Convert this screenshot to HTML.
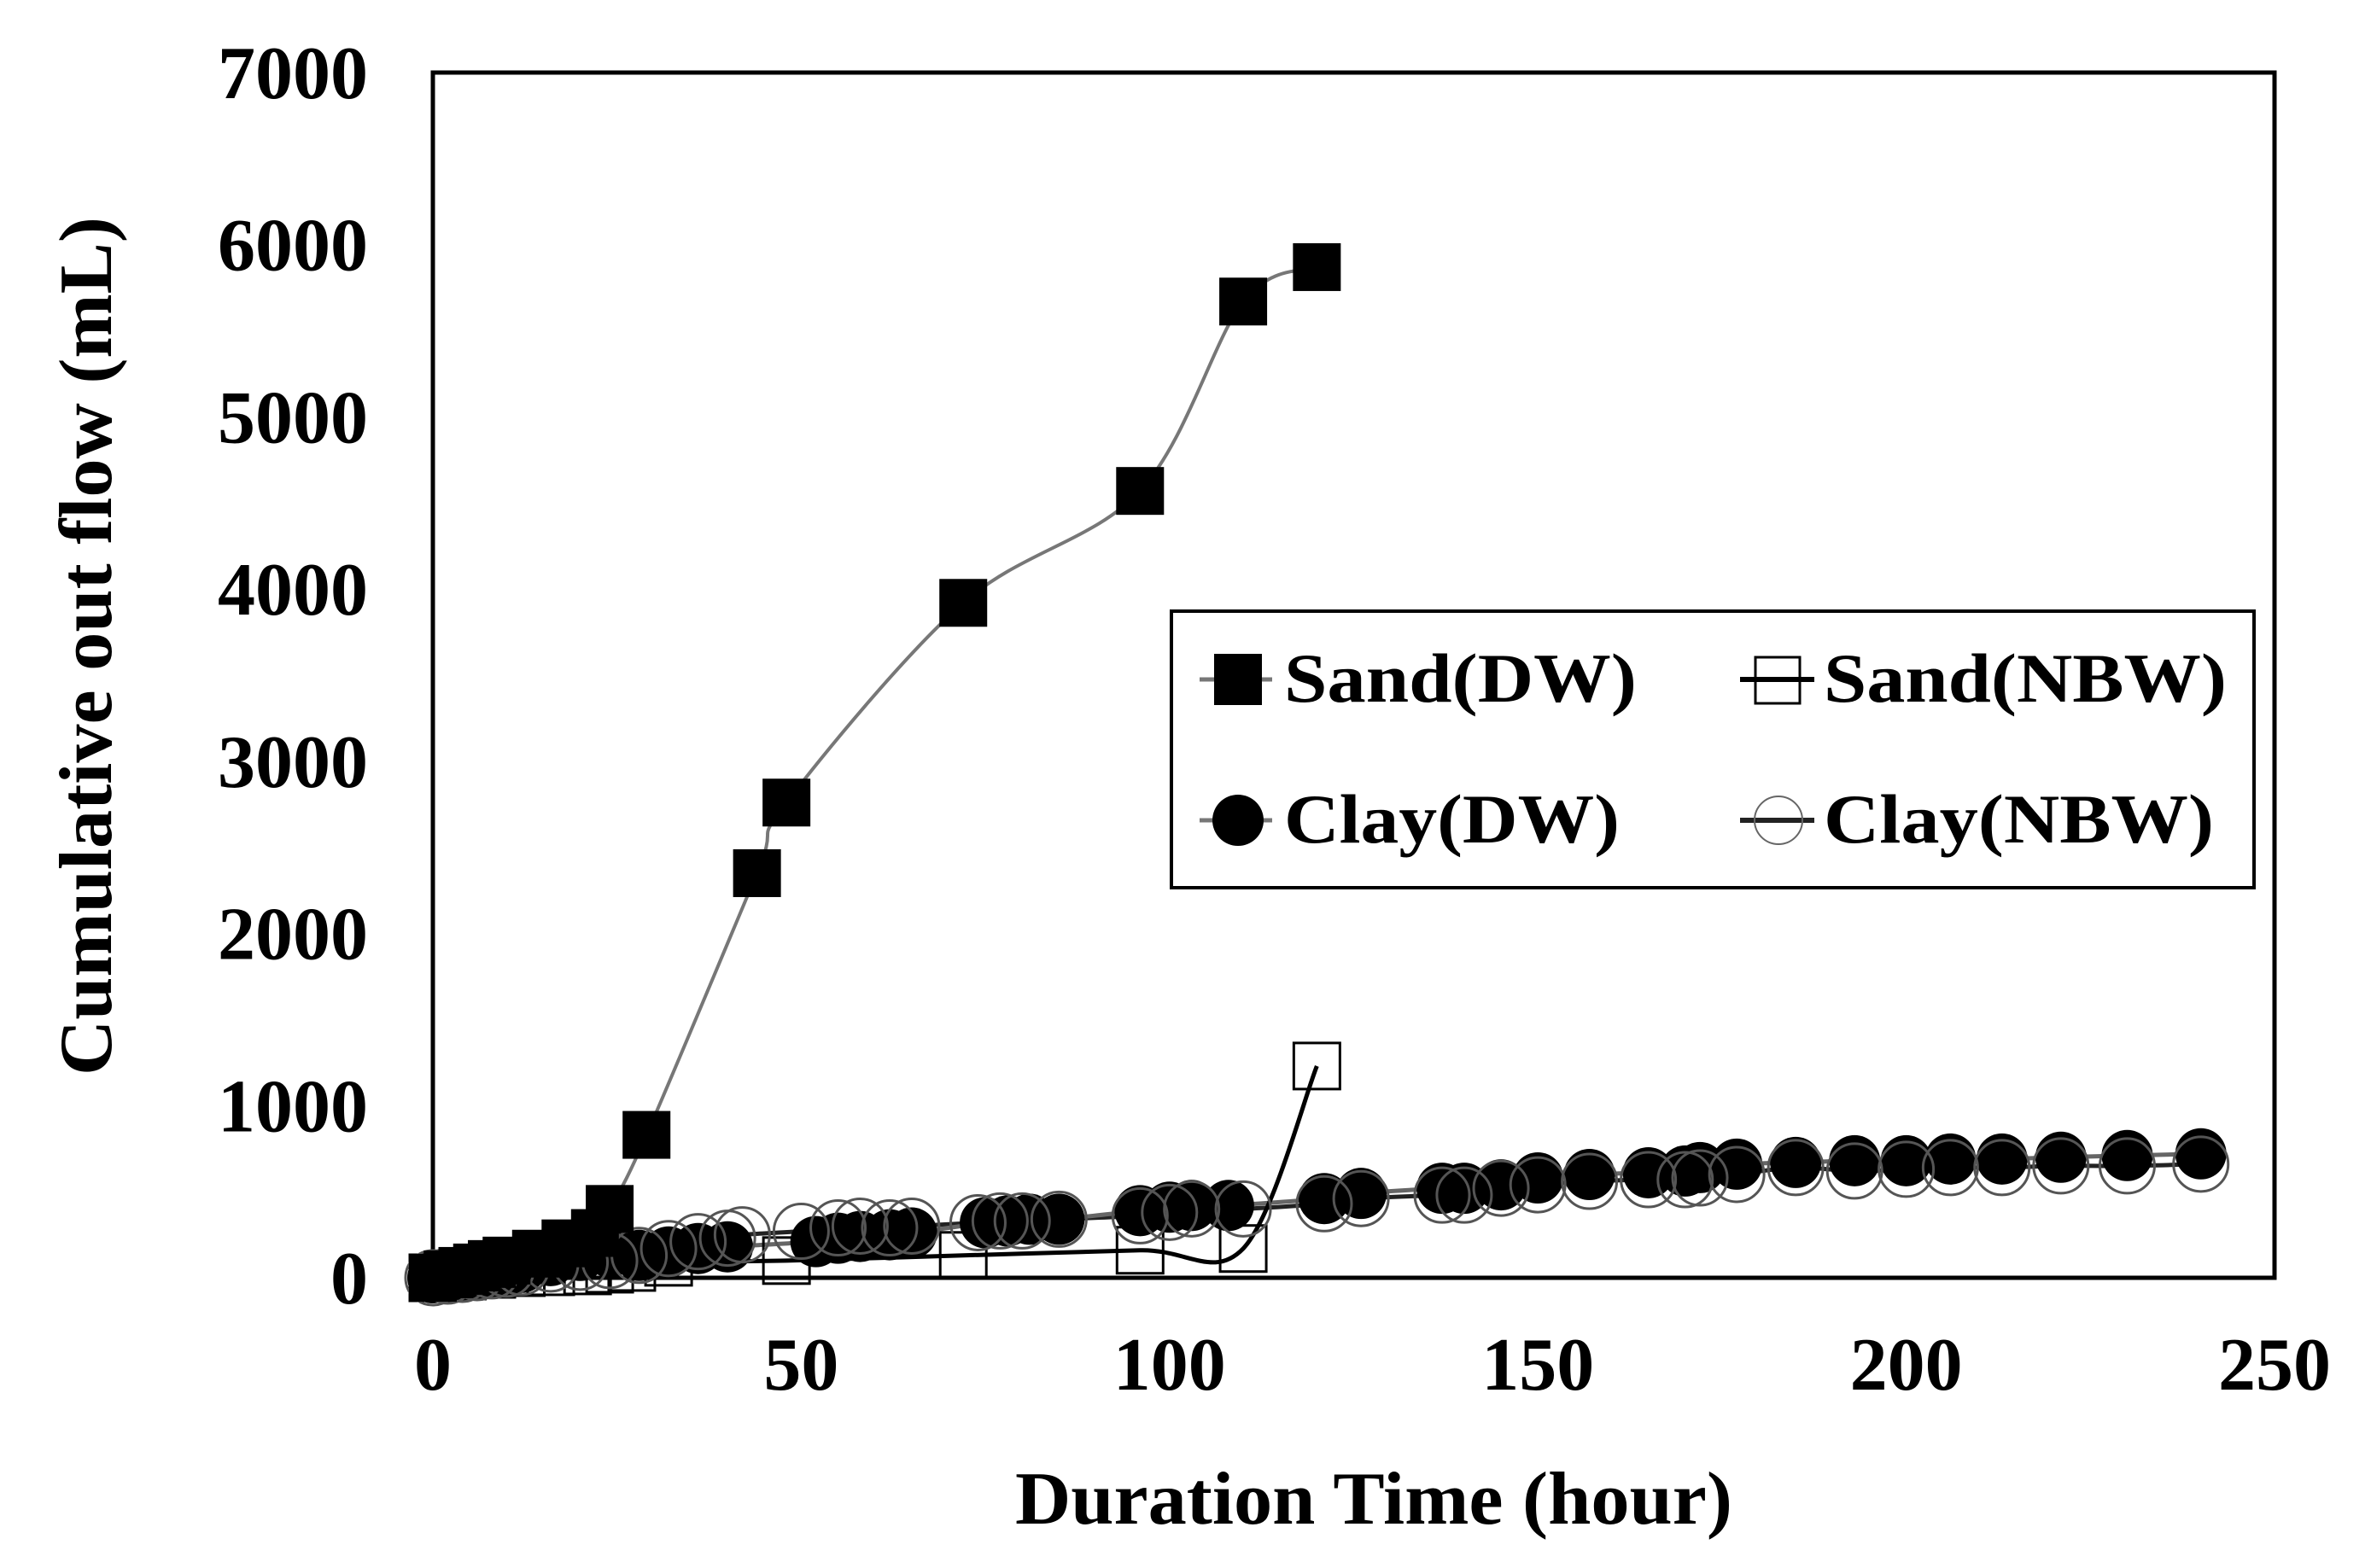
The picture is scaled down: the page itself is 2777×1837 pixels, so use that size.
<!DOCTYPE html>
<html><head><meta charset="utf-8"><style>
html,body{margin:0;padding:0;background:#fff;}
svg{display:block;font-family:"Liberation Serif",serif;font-weight:bold;}
</style></head><body>
<svg id="chart" width="2777" height="1837" viewBox="0 0 2777 1837" xmlns="http://www.w3.org/2000/svg">
<rect x="507" y="85" width="2157" height="1412" fill="#fff" stroke="#000" stroke-width="5"/>
<g id="series"></g>
<g id="axes"></g>
<text x="1609" y="1785" font-size="88" text-anchor="middle" textLength="840" lengthAdjust="spacingAndGlyphs">Duration Time (hour)</text>
<text transform="translate(130,757) rotate(-90)" font-size="88" text-anchor="middle" textLength="1006" lengthAdjust="spacingAndGlyphs">Cumulative out flow (mL)</text>
<g>
<rect x="1372" y="716" width="1268" height="324" fill="#fff" stroke="#000" stroke-width="4"/>
<g>
<line x1="1405" y1="796" x2="1490" y2="796" stroke="#777" stroke-width="5"/>
<rect x="1422" y="766" width="56" height="60" fill="#000"/>
<text x="1504" y="822" font-size="82" textLength="413" lengthAdjust="spacingAndGlyphs">Sand(DW)</text></g>
<g>
<line x1="2038" y1="796" x2="2125" y2="796" stroke="#000" stroke-width="6"/>
<rect x="2056" y="770" width="52" height="54" fill="none" stroke="#000" stroke-width="3"/>
<text x="2136" y="822" font-size="82" textLength="472" lengthAdjust="spacingAndGlyphs">Sand(NBW)</text></g>
<g>
<line x1="1405" y1="961" x2="1490" y2="961" stroke="#777" stroke-width="5"/>
<circle cx="1450" cy="961" r="30" fill="#000"/>
<text x="1504" y="987" font-size="82" textLength="393" lengthAdjust="spacingAndGlyphs">Clay(DW)</text></g>
<g>
<line x1="2038" y1="961" x2="2125" y2="961" stroke="#222" stroke-width="6"/>
<circle cx="2083" cy="961" r="28" fill="none" stroke="#666" stroke-width="2"/>
<text x="2136" y="987" font-size="82" textLength="457" lengthAdjust="spacingAndGlyphs">Clay(NBW)</text></g>
</g>
</svg>
<script>
const xTicks=[0,50,100,150,200,250];
const yTicks=[0,1000,2000,3000,4000,5000,6000,7000];
const sandDwX=[0,2,4,6,8,10,14,18,22,24,29,44,48,72,96,110,120];
const sandDwY=[0,20,40,60,80,100,140,200,260,400,830,2350,2760,3920,4570,5670,5870];
const sandNbwX=[0,4,8,12,16,21,24,27,32,48,72,96,110,120];
const sandNbwY=[0,10,20,30,35,40,50,60,90,100,130,160,170,1230];
const clayDwX=[0,1,2,3,4,5,6,7,8,9,10,11,12,16,20,24,28,32,36,40,52,55,58,62,65,75,78,81,85,96,100,103,108,121,126,137,140,145,150,157,165,170,172,177,185,193,200,206,213,221,230,240];
const clayDwY=[0,5,10,15,20,25,30,35,40,45,50,55,60,100,130,150,130,150,170,180,210,230,240,250,260,320,330,340,340,390,410,420,420,460,490,520,520,540,580,600,610,620,640,660,670,680,680,690,690,700,710,720];
const clayNbwX=[0,2,4,6,8,10,12,16,20,24,28,32,36,40,42,50,55,58,62,65,74,77,80,85,96,100,103,110,121,126,137,140,145,150,157,165,170,172,177,185,193,200,206,213,221,230,240];
const clayNbwY=[0,10,20,30,40,50,60,80,90,100,130,170,210,230,250,270,290,300,290,300,320,330,330,340,360,380,400,400,430,460,480,480,520,540,560,570,570,580,600,640,620,630,640,640,650,650,660];
const L=507,R=2664,T=85,B=1497;
const sx=v=>L+(v/250)*(R-L);
const sy=v=>B-(v/7000)*(B-T);
const NS="http://www.w3.org/2000/svg";
const ser=document.getElementById('series'),ax=document.getElementById('axes');
function mk(tag,attrs,parent){const e=document.createElementNS(NS,tag);for(const k in attrs)e.setAttribute(k,attrs[k]);parent.appendChild(e);return e;}
function smooth(xs,ys){const p=xs.map((x,i)=>[sx(x),sy(ys[i])]);let d='M'+p[0][0]+','+p[0][1];
for(let i=0;i<p.length-1;i++){const p0=p[i-1]||p[i],p1=p[i],p2=p[i+1],p3=p[i+2]||p2;
const c1x=p1[0]+(p2[0]-p0[0])/6,c1y=p1[1]+(p2[1]-p0[1])/6,c2x=p2[0]-(p3[0]-p1[0])/6,c2y=p2[1]-(p3[1]-p1[1])/6;
d+=' C'+c1x+','+c1y+' '+c2x+','+c2y+' '+p2[0]+','+p2[1];}return d;}
// lines
let ln;
ln=mk('path',{d:smooth(clayNbwX,clayNbwY),fill:'none',stroke:'#222',"stroke-width":5},ser);


ln=mk('path',{d:smooth(clayDwX,clayDwY),fill:'none',stroke:'#666',"stroke-width":5},ser);


ln=mk('path',{d:smooth(sandNbwX,sandNbwY),fill:'none',stroke:'#000',"stroke-width":5},ser);


ln=mk('path',{d:smooth(sandDwX,sandDwY),fill:'none',stroke:'#777',"stroke-width":4},ser);


// markers
sandNbwX.forEach((x,i)=>{const e=mk('rect',{x:sx(x)-27,y:sy(sandNbwY[i])-27,width:54,height:54,fill:'none',stroke:'#000','stroke-width':3},ser);

});
clayDwX.forEach((x,i)=>{const e=mk('circle',{cx:sx(x),cy:sy(clayDwY[i]),r:30,fill:'#000'},ser);

});
clayNbwX.forEach((x,i)=>{const e=mk('circle',{cx:sx(x),cy:sy(clayNbwY[i]),r:32,fill:'none',stroke:'#555','stroke-width':3},ser);

});
sandDwX.forEach((x,i)=>{const e=mk('rect',{x:sx(x)-28,y:sy(sandDwY[i])-28,width:56,height:56,fill:'#000'},ser);

});
// ticks
xTicks.forEach(v=>{const t=mk('text',{x:sx(v),y:1628,'font-size':88,'text-anchor':'middle'},ax);t.textContent=String(v);

});
yTicks.forEach(v=>{const t=mk('text',{x:431,y:sy(v)+30,'font-size':88,'text-anchor':'end'},ax);t.textContent=String(v);

});
</script>
</body></html>
